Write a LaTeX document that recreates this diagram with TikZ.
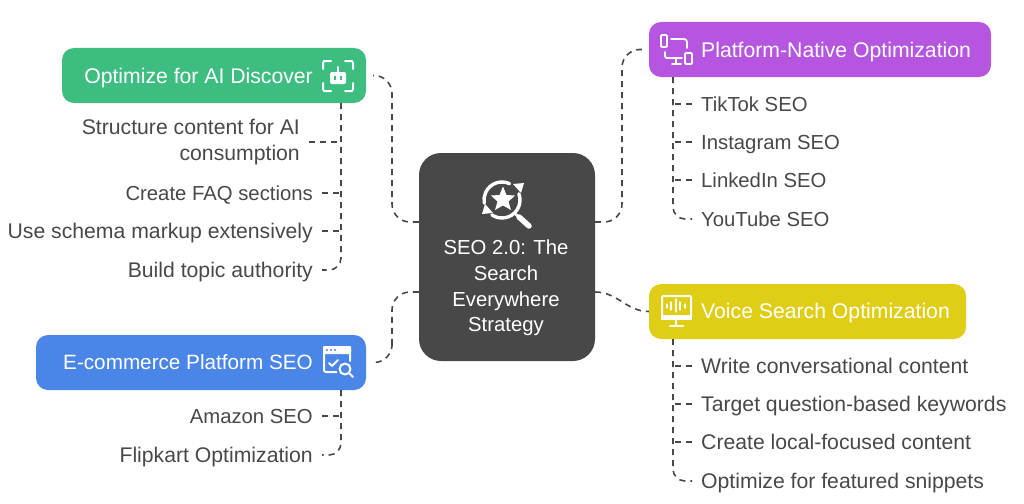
\documentclass[tikz,border=0pt]{standalone}
\usepackage{xcolor}
\usepackage{fontspec}
\setmainfont{Liberation Sans}
\usepackage{tikz}
\usetikzlibrary{positioning}

\definecolor{hubgray}{HTML}{484848}
\definecolor{aigreen}{HTML}{3DBE80}
\definecolor{nativepurple}{HTML}{B555E0}
\definecolor{voiceyellow}{HTML}{E0CE16}
\definecolor{shopblue}{HTML}{4A85E8}

\tikzset{
	topicbox/.style={rectangle, rounded corners=12pt, minimum height=55pt, inner sep=0pt},
	topiclabel/.style={text=white, inner sep=0pt, text height=19pt, text depth=4pt},
	leaf/.style={text=hubgray, inner ysep=0pt, inner xsep=9pt, text height=19pt, text depth=4pt},
	shortleaf/.style={leaf, font=\fontsize{20.3}{25.6}\selectfont},
	link/.style={draw=hubgray, line width=1.6pt, dash pattern=on 6pt off 5pt},
	iconline/.style={draw=white, line width=2pt, line cap=round, line join=round},
}

\begin{document}
\begin{tikzpicture}[x=1pt, y=-1pt, every node/.append style={font=\fontsize{21.2}{25.6}\selectfont}]
		\useasboundingbox (0,0) rectangle (1024,503);

		\node[rectangle, rounded corners=22pt, fill=hubgray, minimum width=176pt, minimum height=208pt, inner sep=0pt] (hub) at (507,257) {};
		\node[text=white, align=center, inner sep=0pt, font=\fontsize{20.3}{25.6}\selectfont] (hubtext) at (506,288) {SEO 2.0: The\\Search\\Everywhere\\Strategy};

		\node[topicbox, fill=aigreen, minimum width=304pt] (ai) at (214,75.5) {};
		\node[topicbox, fill=nativepurple, minimum width=342pt] (native) at (820,49.5) {};
		\node[topicbox, fill=voiceyellow, minimum width=317pt] (voice) at (807.5,311.5) {};
		\node[topicbox, fill=shopblue, minimum width=330pt] (shop) at (201,362.5) {};

		\node[topiclabel, anchor=east] (ailabel) at (313,76) {Optimize for AI Discover};
		\node[topiclabel, anchor=west] (nativelabel) at (701,50) {Platform-Native Optimization};
		\node[topiclabel, anchor=west] (voicelabel) at (701,311) {Voice Search Optimization};
		\node[topiclabel, anchor=east, font=\fontsize{20.7}{25.6}\selectfont] (shoplabel) at (313,362) {E-commerce Platform SEO};

		\node[text=hubgray, align=right, inner ysep=0pt, inner xsep=9pt, anchor=east] (structure) at (309,142) {Structure content for AI\\consumption};
		\node[shortleaf, anchor=east] (faq) at (322,193) {Create FAQ sections};
		\node[leaf, anchor=east] (schema) at (322,231) {Use schema markup extensively};
		\node[leaf, anchor=east] (authority) at (322,270) {Build topic authority};

		\node[shortleaf, anchor=east] (amazon) at (322,416) {Amazon SEO};
		\node[leaf, anchor=east] (flipkart) at (322,455) {Flipkart Optimization};

		\node[shortleaf, anchor=west] (tiktok) at (692,104) {TikTok SEO};
		\node[shortleaf, anchor=west] (instagram) at (692,142) {Instagram SEO};
		\node[shortleaf, anchor=west] (linkedin) at (692,180) {LinkedIn SEO};
		\node[shortleaf, anchor=west] (youtube) at (692,219) {YouTube SEO};

		\node[leaf, anchor=west] (conversational) at (692,366) {Write conversational content};
		\node[leaf, anchor=west] (question) at (692,404) {Target question-based keywords};
		\node[leaf, anchor=west] (local) at (692,442) {Create local-focused content};
		\node[leaf, anchor=west] (snippets) at (692,481) {Optimize for featured snippets};

		\coordinate (aibend) at (392,150);
		\coordinate (shopbend) at (392,330);
		\coordinate (nativebend) at (622,150);
		\coordinate (aitrunk) at (341,103);
		\coordinate (shoptrunk) at (341,390);
		\coordinate (nativetrunk) at (673,77);
		\coordinate (voicetrunk) at (673,339);

		\draw[link, rounded corners=18pt] ([yshift=35pt]hub.west) -| (aibend) |- ([xshift=7pt]ai.east);
		\draw[link, rounded corners=18pt] ([yshift=-35pt]hub.west) -| (shopbend) |- ([xshift=7pt]shop.east);
		\draw[link, rounded corners=18pt] ([yshift=35pt]hub.east) -| (nativebend) |- ([xshift=-7pt]native.west);
		\draw[link] ([yshift=-35pt]hub.east) to[out=0, in=180] (voice.west);

		\draw[link, rounded corners=12pt] (aitrunk) |- (authority.east);
		\draw[link] (structure.east) -- (structure.east -| aitrunk);
		\draw[link] (faq.east) -- (faq.east -| aitrunk);
		\draw[link] (schema.east) -- (schema.east -| aitrunk);

		\draw[link, rounded corners=12pt] (shoptrunk) |- (flipkart.east);
		\draw[link] (amazon.east) -- (amazon.east -| shoptrunk);

		\draw[link, rounded corners=12pt] (nativetrunk) |- (youtube.west);
		\draw[link] (tiktok.west) -- (tiktok.west -| nativetrunk);
		\draw[link] (instagram.west) -- (instagram.west -| nativetrunk);
		\draw[link] (linkedin.west) -- (linkedin.west -| nativetrunk);

		\draw[link, rounded corners=12pt] (voicetrunk) |- (snippets.west);
		\draw[link] (conversational.west) -- (conversational.west -| voicetrunk);
		\draw[link] (question.west) -- (question.west -| voicetrunk);
		\draw[link] (local.west) -- (local.west -| voicetrunk);

		% hub icon
		\draw[iconline, line width=3.4pt, shift={(502,200)}] (-65:18) arc[start angle=-65, end angle=-190, radius=18];
		\draw[iconline, line width=3.4pt, shift={(502,200)}] (-236:18) arc[start angle=-236, end angle=-380, radius=18];
		\fill[white] (482,214) -- (493,213) -- (485,204) -- cycle;
		\fill[white] (513,184) -- (524,183) -- (521,193) -- cycle;
		\fill[white] (503,186.5) -- (506.5,195) -- (515,195.5) -- (508.5,201.5) -- (511,210) -- (503,205.5) -- (495,210) -- (497.5,201.5) -- (491,195.5) -- (499.5,195) -- cycle;
		\draw[iconline, line width=2.5pt] (514,213) -- (519,217);
		\draw[iconline, line width=5.5pt] (519,217) -- (529,226);

		% robot icon
		\draw[iconline] (323,69) -- (323,63) -- (324,61) -- (331,61);
		\draw[iconline] (345,61) -- (352,61) -- (353,63) -- (353,69);
		\draw[iconline] (323,83) -- (323,89) -- (324,91) -- (331,91);
		\draw[iconline] (345,91) -- (352,91) -- (353,89) -- (353,83);
		\fill[white, rounded corners=2pt] (330,72) rectangle (346,84);
		\draw[iconline] (338,67) -- (338,72);
		\fill[aigreen] (334,76) rectangle (336,80);
		\fill[aigreen] (340,76) rectangle (342,80);

		% platform icon
		\draw[iconline, line width=1.8pt, rounded corners=1pt] (661,35) rectangle (667,47);
		\draw[iconline, line width=1.8pt, rounded corners=3pt] (671,39) -- (687,39) -- (687,48);
		\draw[iconline, line width=1.8pt, rounded corners=2pt] (665,52) -- (665,58) -- (682,58);
		\draw[iconline, line width=1.8pt] (676,58) -- (676,63);
		\draw[iconline, line width=1.8pt] (672,64) -- (681,64);
		\draw[iconline, line width=1.8pt, rounded corners=1pt] (685,53) rectangle (692,64);

		% voice icon
		\draw[iconline, rounded corners=1pt] (662,296) rectangle (691,318);
		\fill[white] (661,315) rectangle (692,320);
		\draw[iconline] (676,320) -- (676,325);
		\draw[iconline] (670,326) -- (683,326);
		\draw[iconline, line width=1.2pt] (667,304) -- (667,308);
		\draw[iconline, line width=1.2pt] (671,302) -- (671,310);
		\draw[iconline, line width=1.2pt] (676,299) -- (676,312);
		\draw[iconline, line width=1.2pt] (680,302) -- (680,310);
		\draw[iconline, line width=1.2pt] (685,304) -- (685,308);

		% shop icon
		\draw[iconline, rounded corners=2pt] (339,372) -- (324,372) -- (324,347) -- (350,347) -- (350,361);
		\fill[white, rounded corners=1pt] (323,346) rectangle (351,354);
		\fill[shopblue] (327,350) circle (1.2);
		\fill[shopblue] (331,350) circle (1.2);
		\fill[shopblue] (335,350) circle (1.2);
		\draw[iconline] (329,363) -- (332,366) -- (338,360);
		\fill[shopblue] (345,369) circle (8.5);
		\draw[iconline] (345,369) circle (5.5);
		\draw[iconline] (349.5,373.5) -- (353,377);
	\end{tikzpicture}
\end{document}
